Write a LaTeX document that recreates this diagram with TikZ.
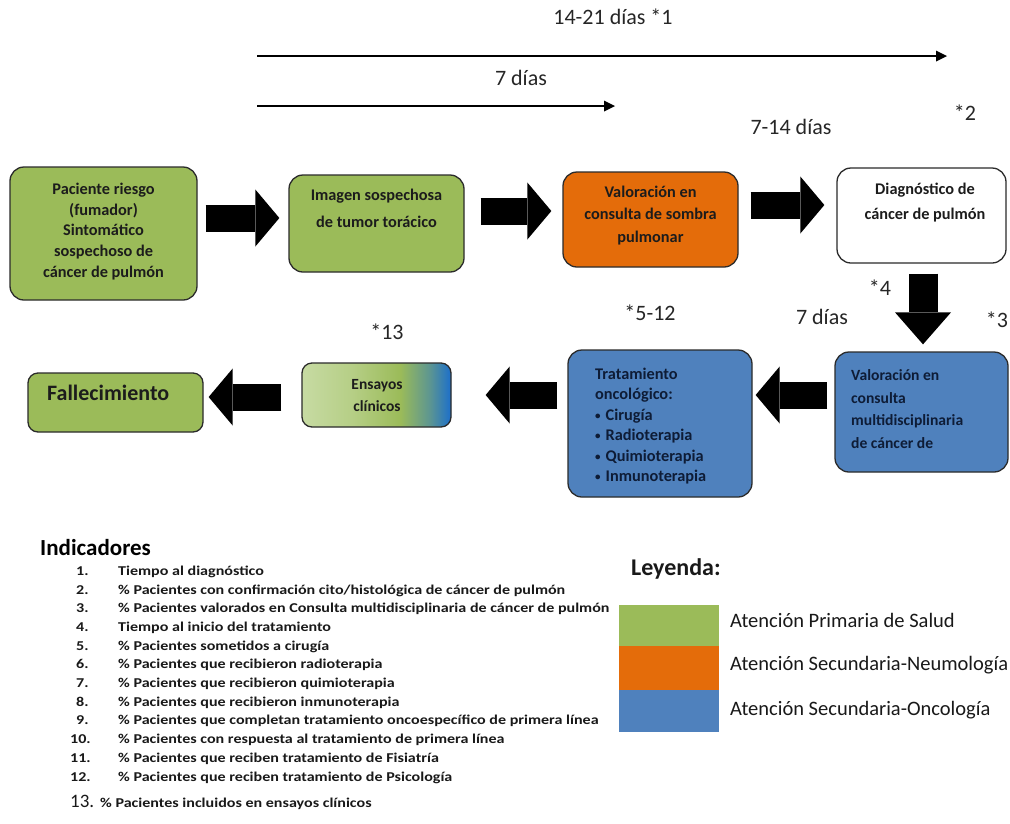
\documentclass[tikz,border=0pt]{standalone}
\usepackage{fontspec}
\setmainfont{Carlito}
\newfontfamily\indfont[FakeStretch=1.19]{Carlito}
\usetikzlibrary{arrows.meta,calc}
\newcommand\smbul{{\fontsize{11}{11}\selectfont\raisebox{1pt}{•}}\hspace{5pt}}
\definecolor{gA}{HTML}{9BBB59}
\definecolor{oA}{HTML}{E46C0A}
\definecolor{bA}{HTML}{4F81BD}
\definecolor{txtd}{HTML}{1C1C1C}
\definecolor{navy}{HTML}{0E1C36}
\definecolor{edge}{HTML}{2B2B2B}
\definecolor{gL}{HTML}{C7DBA3}
\definecolor{gM}{HTML}{9BBB59}
\definecolor{bR}{HTML}{1C6FCB}
\pgfdeclarehorizontalshading{ensayo}{100bp}{color(0bp)=(gL); color(25bp)=(gL); color(42bp)=(gL!60!gM); color(58bp)=(gM); color(68bp)=(gM!50!bR); color(75bp)=(bR); color(100bp)=(bR)}
\tikzset{
  box/.style={draw=edge, line width=1.3pt, rounded corners=14pt, inner sep=0pt},
  btxt/.style={font=\bfseries\fontsize{16.3}{20.7}\selectfont, align=center, text=txtd, inner sep=0pt},
  blk/.style={line width=27pt, -{Triangle[width=57pt,length=24pt,line width=0pt]}},
  blkd/.style={line width=29pt, -{Triangle[width=56pt,length=32pt,line width=0pt]}},
  thinarr/.style={line width=2.4pt, -{Triangle[width=11pt,length=11pt,line width=0pt]}},
  lab/.style={font=\fontsize{22}{24}\selectfont, text=black!85, inner sep=0pt, anchor=mid},
  indnum/.style={font=\indfont\bfseries\fontsize{13.5}{16}\selectfont, text=black!90, inner sep=0pt, anchor=mid west},
  indtxt/.style={font=\indfont\bfseries\fontsize{13.5}{16}\selectfont, text=black!90, inner sep=0pt, anchor=mid west},
  legtxt/.style={font=\fontsize{20.5}{23}\selectfont, text=black!90, inner sep=0pt, anchor=mid west},
}
\begin{document}
\begin{tikzpicture}[x=1pt,y=-1pt]
\useasboundingbox[fill=white] (0,0) rectangle (1010,823);

% timeline arrows
\coordinate (l1s) at (257,56);
\coordinate (l1e) at (947,56);
\coordinate (l2s) at (257,106);
\coordinate (l2e) at (615,106);
\draw[thinarr] (l1s) -- (l1e);
\draw[thinarr] (l2s) -- (l2e);
\node[lab] (t1421) at (613,22) {14-21 días *1};
\node[lab] (t7a) at (521,83) {7 días};
\node[lab] (t714) at (791,132) {7-14 días};
\node[lab] (s2) at (965,118) {*2};
\node[lab] (s4) at (880,293) {*4};
\node[lab] (t7b) at (822,322) {7 días};
\node[lab] (s3) at (997,325) {*3};
\node[lab] (s512) at (650,318) {*5-12};
\node[lab] (s13) at (387,337) {*13};

% boxes
\node[box, fill=gA, minimum width=187pt, minimum height=133pt] (b1) at (103.5,233.5) {};
\node[box, fill=gA, minimum width=175pt, minimum height=97pt] (b2) at (376.5,223.5) {};
\node[box, fill=oA, minimum width=175pt, minimum height=95pt] (b3) at (650.5,219.5) {};
\node[box, fill=white, minimum width=169pt, minimum height=95pt] (b4) at (921.5,215.5) {};
\node[box, fill=bA, minimum width=173pt, minimum height=120pt] (b5) at (921.5,412) {};
\node[box, fill=bA, minimum width=184pt, minimum height=147pt] (b6) at (660,423.5) {};
\node[box, draw=edge, rounded corners=10pt, shade, shading=ensayo, shading angle=0, minimum width=149pt, minimum height=64pt] (b7) at (376.5,395) {};
\node[box, fill=gA, rounded corners=10pt, minimum width=175pt, minimum height=59pt] (b8) at (115.5,402.5) {};

% box texts
\node[btxt] (x1) at (103.5,231.5) {Paciente riesgo\\(fumador)\\Sintomático\\sospechoso de\\cáncer de pulmón};
\node[btxt, font=\bfseries\fontsize{16.3}{27}\selectfont] (x2) at (376.5,208.5) {Imagen sospechosa\\de tumor torácico};
\node[btxt, font=\bfseries\fontsize{16.3}{22.5}\selectfont] (x3) at (650.5,215.5) {Valoración en\\consulta de sombra\\pulmonar};
\node[btxt, font=\bfseries\fontsize{16.3}{25}\selectfont] (x4) at (925,202.5) {Diagnóstico de\\cáncer de pulmón};
\node[btxt, font=\bfseries\fontsize{15.6}{22.6}\selectfont, text=navy, align=left, anchor=west] (x5) at (851,409) {Valoración en\\consulta\\multidisciplinaria\\de cáncer de};
\node[btxt, font=\bfseries\fontsize{16.3}{20.4}\selectfont, text=navy, align=left, anchor=west] (x6) at (595,426) {Tratamiento\\oncológico:\\\smbul Cirugía\\\smbul Radioterapia\\\smbul Quimioterapia\\\smbul Inmunoterapia};
\node[btxt, font=\bfseries\fontsize{15.5}{22}\selectfont] (x7) at (377,396) {Ensayos\\clínicos};
\node[btxt, font=\bfseries\fontsize{22}{24}\selectfont, anchor=mid west] (x8) at (47,398) {Fallecimiento};

% block arrows
\coordinate (r1) at (0,218);
\coordinate (r2) at (0,211);
\coordinate (r3) at (0,205);
\coordinate (c4) at (923,0);
\coordinate (r5) at (0,395);
\coordinate (r6) at (0,395);
\coordinate (r7) at (0,397);
\draw[blk] ($(b1.east |- r1)+(8,0)$) -- ($(b2.west |- r1)+(-9,0)$);
\draw[blk] ($(b2.east |- r2)+(16,0)$) -- ($(b3.west |- r2)+(-11,0)$);
\draw[blk] ($(b3.east |- r3)+(12,0)$) -- ($(b4.west |- r3)+(-12,0)$);
\draw[blkd] ($(b4.south -| c4)+(0,10)$) -- ($(b5.north -| c4)+(0,-7)$);
\draw[blk] ($(b5.west |- r5)+(-7,0)$) -- ($(b6.east |- r5)+(3,0)$);
\draw[blk] ($(b6.west |- r6)+(-10,0)$) -- ($(b7.east |- r6)+(34,0)$);
\draw[blk] ($(b7.west |- r7)+(-20,0)$) -- ($(b8.east |- r7)+(5,0)$);

% indicators
\node[font=\bfseries\fontsize{23}{26}\selectfont, inner sep=0pt, anchor=mid west] (ind) at (40,553) {Indicadores};
\node[indnum] (n1) at (76,573) {1.};
\node[indtxt] (i1) at (118,573) {Tiempo al diagnóstico};
\node[indnum] (n2) at (76,591.7) {2.};
\node[indtxt] (i2) at (118,591.7) {\% Pacientes con confirmación cito/histológica de cáncer de pulmón};
\node[indnum] (n3) at (76,610.4) {3.};
\node[indtxt] (i3) at (118,610.4) {\% Pacientes valorados en Consulta multidisciplinaria de cáncer de pulmón};
\node[indnum] (n4) at (76,629.1) {4.};
\node[indtxt] (i4) at (118,629.1) {Tiempo al inicio del tratamiento};
\node[indnum] (n5) at (76,647.8) {5.};
\node[indtxt] (i5) at (118,647.8) {\% Pacientes sometidos a cirugía};
\node[indnum] (n6) at (76,666.5) {6.};
\node[indtxt] (i6) at (118,666.5) {\% Pacientes que recibieron radioterapia};
\node[indnum] (n7) at (76,685.2) {7.};
\node[indtxt] (i7) at (118,685.2) {\% Pacientes que recibieron quimioterapia};
\node[indnum] (n8) at (76,703.9) {8.};
\node[indtxt] (i8) at (118,703.9) {\% Pacientes que recibieron inmunoterapia};
\node[indnum] (n9) at (76,722.6) {9.};
\node[indtxt] (i9) at (118,722.6) {\% Pacientes que completan tratamiento oncoespecífico de primera línea};
\node[indnum] (n10) at (70,741.3) {10.};
\node[indtxt] (i10) at (118,741.3) {\% Pacientes con respuesta al tratamiento de primera línea};
\node[indnum] (n11) at (70,760) {11.};
\node[indtxt] (i11) at (118,760) {\% Pacientes que reciben tratamiento de Fisiatría};
\node[indnum] (n12) at (70,778.7) {12.};
\node[indtxt] (i12) at (118,778.7) {\% Pacientes que reciben tratamiento de Psicología};
\node[indnum, font=\fontsize{19}{22}\selectfont] (n13) at (70,805) {13.};
\node[indtxt] (i13) at (100,805) {\% Pacientes incluidos en ensayos clínicos};

% legend
\node[font=\bfseries\fontsize{24}{26}\selectfont, inner sep=0pt, anchor=mid west, text=black!90] (ley) at (631,573) {Leyenda:};
\node[fill=gA, minimum width=100pt, minimum height=41pt, inner sep=0pt, anchor=north west] (sw1) at (619,605) {};
\node[fill=oA, minimum width=100pt, minimum height=45pt, inner sep=0pt, anchor=north west] (sw2) at (619,646) {};
\node[fill=bA, minimum width=100pt, minimum height=42pt, inner sep=0pt, anchor=north west] (sw3) at (619,690) {};
\node[legtxt] (lg1) at (730,625) {Atención Primaria de Salud};
\node[legtxt] (lg2) at (730,668) {Atención Secundaria-Neumología};
\node[legtxt] (lg3) at (730,713) {Atención Secundaria-Oncología};
\end{tikzpicture}
\end{document}
